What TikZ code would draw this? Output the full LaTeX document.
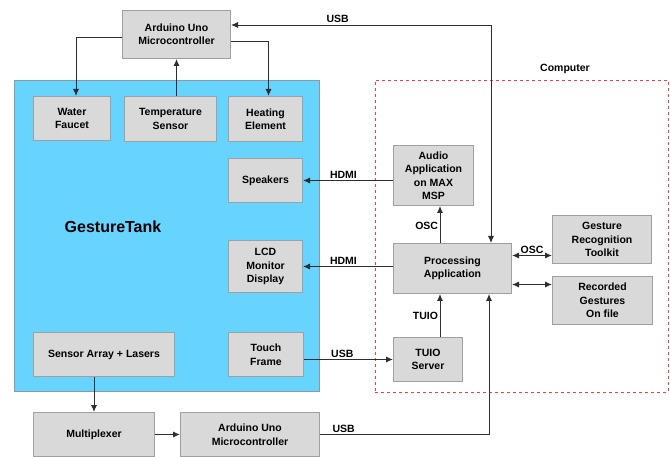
\documentclass[tikz,border=0pt]{standalone}
\usepackage{fontspec}
\setmainfont{Liberation Sans}
\usetikzlibrary{arrows.meta,positioning,calc}
\definecolor{gtblue}{HTML}{66D4FF}
\definecolor{gtedge}{HTML}{8A9AA4}
\definecolor{gtgray}{HTML}{D9D9D9}
\definecolor{gtbord}{HTML}{A0A0A0}
\definecolor{gtline}{HTML}{2E2E2E}
\definecolor{gtred}{HTML}{FF3B3B}
\tikzset{
  blk/.style={draw=gtbord,fill=gtgray,line width=1pt,align=center,anchor=north west,inner sep=2pt,
    font=\bfseries\fontsize{10.5}{13.5}\selectfont},
  arr/.style={-{Latex[length=7pt,width=6pt]},line width=0.9pt,draw=gtline},
  dbl/.style={{Latex[length=7pt,width=6pt]}-{Latex[length=7pt,width=6pt]},line width=0.9pt,draw=gtline},
  lbl/.style={font=\bfseries\fontsize{10.5}{12}\selectfont,inner sep=1.5pt},
}
\begin{document}
\begin{tikzpicture}[x=1pt,y=-1pt]
  \useasboundingbox (0,0) rectangle (670,457);
  % --- containers
  \node[draw=gtedge,fill=gtblue,line width=1pt,anchor=north west,minimum width=305pt,minimum height=311pt,inner sep=0] (tank) at (14,80) {};
  \node[font=\bfseries\fontsize{16}{18}\selectfont] (tanklbl) at (113,227) {GestureTank};
  \node[draw=gtred,dashed,line width=0.9pt,anchor=north west,minimum width=293pt,minimum height=312pt,inner sep=0] (comp) at (375,80) {};
  \node[lbl] (complbl) at (565,69) {Computer};
  % --- blocks
  \node[blk,minimum width=108pt,minimum height=48pt] (ardtop) at (122,10) {Arduino Uno\\Microcontroller};
  \node[blk,minimum width=77pt,minimum height=44pt] (faucet) at (33,96) {Water\\Faucet};
  \node[blk,minimum width=92pt,minimum height=45pt] (temp) at (124,96) {Temperature\\Sensor};
  \node[blk,minimum width=74pt,minimum height=45pt] (heat) at (228,96) {Heating\\Element};
  \node[blk,minimum width=74pt,minimum height=44pt] (spk) at (228,158) {Speakers};
  \node[blk,minimum width=74pt,minimum height=52pt] (lcd) at (228,240) {LCD\\Monitor\\Display};
  \node[blk,minimum width=141pt,minimum height=44pt] (sensor) at (33,332) {Sensor Array + Lasers};
  \node[blk,minimum width=75pt,minimum height=44pt] (touch) at (228,332) {Touch\\Frame};
  \node[blk,minimum width=121pt,minimum height=44pt] (mux) at (33,412) {Multiplexer};
  \node[blk,minimum width=139pt,minimum height=44pt] (ardbot) at (180,412) {Arduino Uno\\Microcontroller};
  \node[blk,minimum width=80pt,minimum height=60pt] (audio) at (393,145) {Audio\\Application\\on MAX\\MSP};
  \node[blk,minimum width=118pt,minimum height=50pt] (proc) at (393,243) {Processing\\Application};
  \node[blk,minimum width=99pt,minimum height=48pt] (grt) at (552,215) {Gesture\\Recognition\\Toolkit};
  \node[blk,minimum width=100pt,minimum height=48pt] (rec) at (552,276) {Recorded\\Gestures\\On file};
  \node[blk,minimum width=69pt,minimum height=44pt] (tuio) at (393,337) {TUIO\\Server};
  % --- routing columns
  \coordinate (usbtop) at (491,25);
  \coordinate (usbbot) at (489,0);
  \coordinate (vx) at (440,0);
  % --- Arduino (top) links
  \draw[dbl] (ardtop.east |- usbtop) -- node[lbl,above,pos=0.41] {USB} (usbtop) -- (usbtop |- proc.north);
  \draw[arr] ([yshift=-3pt]ardtop.west) -| ([xshift=4pt]faucet.north);
  \draw[arr] (temp.north -| ardtop.south) -- (ardtop.south);
  \draw[arr] ([yshift=-7pt]ardtop.east) -| ([xshift=3pt]heat.north);
  % --- computer outputs
  \draw[arr] (audio.west |- spk.east) -- node[lbl,above,pos=0.55] {HDMI} (spk.east);
  \draw[arr] (proc.west |- lcd.east) -- node[lbl,above,pos=0.55] {HDMI} (lcd.east);
  \draw[arr] (proc.north -| vx) -- node[lbl,left,pos=0.45] {OSC} (audio.south -| vx);
  \draw[dbl] ([yshift=13pt]proc.east) -- node[lbl,above] {OSC} ([yshift=13pt]proc.east -| grt.west);
  \draw[dbl] ([yshift=-16pt]proc.east) -- ([yshift=-16pt]proc.east -| rec.west);
  % --- inputs
  \draw[arr] (tuio.north -| vx) -- node[lbl,left] {TUIO} (proc.south -| vx);
  \draw[arr] (touch.east |- tuio.west) -- node[lbl,above,pos=0.43] {USB} (tuio.west);
  \draw[arr] (sensor.south -| mux.north) -- (mux.north);
  \draw[arr] (mux.east) -- (ardbot.west);
  \draw[arr] (ardbot.east) -- node[lbl,above,pos=0.14] {USB} (ardbot.east -| usbbot) -- (proc.south -| usbbot);
\end{tikzpicture}
\end{document}
